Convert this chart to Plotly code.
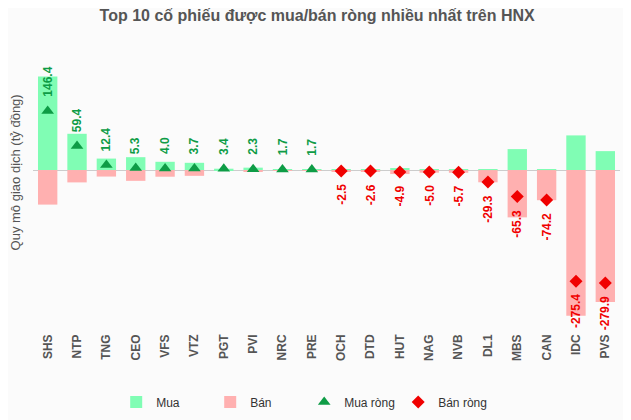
import plotly.graph_objects as go

# tickers, ordered as on the chart
tickers = ["SHS", "NTP", "TNG", "CEO", "VFS", "VTZ", "PGT", "PVI", "NRC", "PRE",
           "OCH", "DTD", "HUT", "NAG", "NVB", "DL1", "MBS", "CAN", "IDC", "PVS"]

# gross buy / sell values (tỷ đồng)
mua = [232.0, 90.0, 28.5, 32.0, 20.5, 18.0, 3.4, 6.0, 2.5, 2.5,
       1.0, 1.5, 5.0, 1.5, 1.0, 1.0, 52.0, 0.5, 86.0, 47.0]
ban = [-85.6, -30.6, -16.1, -26.7, -16.5, -14.3, 0.0, -3.7, -0.8, -0.8,
       -3.5, -4.1, -9.9, -6.5, -6.7, -30.3, -117.3, -74.7, -361.4, -326.9]

# net values printed on the chart
rong = [146.4, 59.4, 12.4, 5.3, 4.0, 3.7, 3.4, 2.3, 1.7, 1.7,
        -2.5, -2.6, -4.9, -5.0, -5.7, -29.3, -65.3, -74.2, -275.4, -279.9]

GREEN_BAR = "#80fdb4"
RED_BAR = "#ffb0b0"
GREEN = "#0e9c46"
RED = "#f00000"
TXT = "#555555"
FONT = "Liberation Sans, Arial"

pos_x = [t for t, v in zip(tickers, rong) if v >= 0]
pos_y = [v for v in rong if v >= 0]
neg_x = [t for t, v in zip(tickers, rong) if v < 0]
neg_y = [v for v in rong if v < 0]

fig = go.Figure()
fig.add_trace(go.Bar(x=tickers, y=mua, name="Mua", marker=dict(color=GREEN_BAR, line=dict(width=0)),
                     width=0.66))
fig.add_trace(go.Bar(x=tickers, y=ban, name="Bán", marker=dict(color=RED_BAR, line=dict(width=0)),
                     width=0.66))
fig.add_trace(go.Scatter(x=pos_x, y=pos_y, name="Mua ròng", mode="markers",
                         marker=dict(symbol="triangle-up", size=11, color=GREEN)))
fig.add_trace(go.Scatter(x=neg_x, y=neg_y, name="Bán ròng", mode="markers",
                         marker=dict(symbol="diamond", size=10, color=RED)))

# rotated net value labels
for t, v in zip(tickers, rong):
    up = v >= 0
    fig.add_annotation(x=t, y=v, text=f"{v:.1f}", textangle=-90, showarrow=False,
                       yanchor="bottom" if up else "top", yshift=12 if up else -11,
                       font=dict(size=12, color=GREEN if up else RED, weight="bold", family=FONT))

# y axis title as an annotation so it sits close to the axis
fig.add_annotation(text="Quy mô giao dịch (tỷ đồng)", xref="paper", yref="paper", x=-0.030, y=0.597,
                   textangle=-90, showarrow=False, xanchor="center", yanchor="middle",
                   font=dict(size=13, color=TXT, family=FONT))

# page is drawn with an 8px body offset, margins compensate for it
fig.update_layout(
    width=631, height=420,
    margin=dict(l=25, r=19, t=54, b=93, autoexpand=False),
    paper_bgcolor="#fbfbfb", plot_bgcolor="#fbfbfb",
    barmode="relative",
    font=dict(family=FONT, size=12, color=TXT),
    title=dict(text="<b>Top 10 cổ phiếu được mua/bán ròng nhiều nhất trên HNX</b>",
               x=0.49, xref="container", xanchor="center", y=0.983, yref="container",
               yanchor="middle", font=dict(size=16, color=TXT)),
    showlegend=True,
    legend=dict(orientation="h", x=0.462, xanchor="center", y=-0.245, yanchor="middle",
                font=dict(size=12, color="#333333"), itemwidth=30, entrywidth=49,
                bgcolor="rgba(0,0,0,0)"),
)
fig.update_xaxes(range=[-0.5, 19.5], tickangle=-90, showgrid=False, showline=False, ticks="",
                 automargin=False, ticklabelstandoff=-4,
                 tickfont=dict(size=12, color=TXT, weight="bold"))
fig.update_yaxes(range=[-409, 268], showticklabels=False, showgrid=False, zeroline=True,
                 zerolinecolor="#cccccc", zerolinewidth=1, automargin=False, layer="above traces")

fig.write_html("out.html")
